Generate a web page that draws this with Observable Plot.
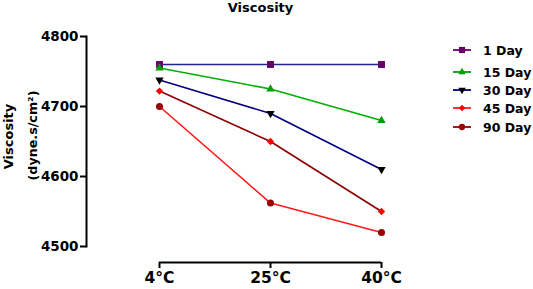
<!DOCTYPE html>
<html><head><meta charset="utf-8">
<script src="https://cdn.jsdelivr.net/npm/d3@7"></script>
<script src="https://cdn.jsdelivr.net/npm/@observablehq/plot@0.6"></script>
<style>
html,body{margin:0;padding:0;background:#fff;}
#wrap{position:relative;width:533px;height:289px;font-family:"DejaVu Sans",sans-serif;}
#legend{position:absolute;left:452px;top:0;}
.li{position:absolute;left:0;display:flex;align-items:center;height:16px;font-weight:bold;font-size:12.5px;color:#000;white-space:nowrap;}
.li svg{margin-right:11px;}
</style></head>
<body><div id="wrap"><div id="legend"></div></div>
<script>
const temps = ["4°C", "25°C", "40°C"];
const series = ["1 Day", "15 Day", "30 Day", "45 Day", "90 Day"];
const day1 = [4760, 4760, 4760];
const day15 = [4755, 4725, 4680];
const day30 = [4738, 4690, 4610];
const day45 = [4722, 4650, 4550];
const day90 = [4700, 4562, 4520];
const yTicks = [4500, 4600, 4700, 4800];
const lineColors = ["#23238c", "#00b000", "#000080", "#8b0000", "#ff1a1a"];
const markColors = ["#660066", "#00a000", "#000000", "#ff0000", "#990000"];
const legendLineColors = ["#660066", "#00a000", "#000080", "#ff2020", "#990000"];
const symbols = ["square", "triangle", "triangle", "diamond2", "circle"];
const rotations = [0, 0, 180, 0, 0];
const radii = [3.9, 3.1, 3.1, 3.3, 3.5];
const legendTops = [42, 64, 82, 100, 119];

const values = [day1, day15, day30, day45, day90];
const data = [];
series.forEach((s, i) => values[i].forEach((v, j) => data.push({series: s, i, temp: temps[j], value: v})));

const font = "DejaVu Sans, sans-serif";
const marks = [
  Plot.frame({anchor: "left", stroke: "#000", strokeWidth: 2}),
  Plot.axisY({ticks: yTicks, tickSize: 6, tickPadding: 2, tickFormat: d => String(d), fontWeight: "bold", fontSize: 13.5, stroke: "#000", strokeWidth: 2, label: null}),
  Plot.ruleY([4500], {x1: () => temps[0], x2: () => temps[2], dy: 16, stroke: "#000", strokeWidth: 2}),
  Plot.axisX({tickSize: 6, dy: 16, tickPadding: 3, fontWeight: "bold", fontSize: 15.5, stroke: "#000", strokeWidth: 2, label: null}),
];
series.forEach((s, i) => {
  const d = data.filter(r => r.i === i);
  marks.push(Plot.line(d, {x: "temp", y: "value", stroke: lineColors[i], strokeWidth: 1.6}));
});
series.forEach((s, i) => {
  const d = data.filter(r => r.i === i);
  marks.push(Plot.dot(d, {x: "temp", y: "value", symbol: () => symbols[i], fill: markColors[i], stroke: "none", r: radii[i], rotate: rotations[i]}));
});
marks.push(
  Plot.text(["Viscosity"], {frameAnchor: "top", dy: -34, fontWeight: "bold", fontSize: 13}),
  Plot.text(["Viscosity"], {frameAnchor: "left", textAnchor: "middle", dx: -78, dy: -5, rotate: -90, fontWeight: "bold", fontSize: 13}),
  Plot.text(["(dyne.s/cm²)"], {frameAnchor: "left", textAnchor: "middle", dx: -54, dy: -6, rotate: -90, fontWeight: "bold", fontSize: 12.7})
);

const chart = Plot.plot({
  width: 533, height: 289,
  marginTop: 36, marginBottom: 43, marginLeft: 86, marginRight: 99,
  style: {fontFamily: font, color: "#000", background: "#fff"},
  x: {type: "point", domain: temps, range: [102, 437]},
  y: {domain: [4500, 4800]},
  symbol: {type: "identity"},
  marks
});
document.getElementById("wrap").prepend(chart);

const legend = d3.select("#legend");
const symMap = {square: d3.symbolSquare, triangle: d3.symbolTriangle, diamond2: d3.symbolDiamond2, circle: d3.symbolCircle};
series.forEach((s, i) => {
  const row = legend.append("div").attr("class", "li").style("top", legendTops[i] + "px");
  const svg = row.append("svg").attr("width", 20).attr("height", 12);
  svg.append("line").attr("x1", 1).attr("x2", 19).attr("y1", 6).attr("y2", 6).attr("stroke", legendLineColors[i]).attr("stroke-width", 1.8);
  svg.append("path").attr("d", d3.symbol(symMap[symbols[i]], Math.PI * radii[i] * radii[i] * 0.8)()).attr("transform", `translate(10,6) rotate(${rotations[i]})`).attr("fill", markColors[i]);
  row.append("span").text(s);
});
</script></body></html>
